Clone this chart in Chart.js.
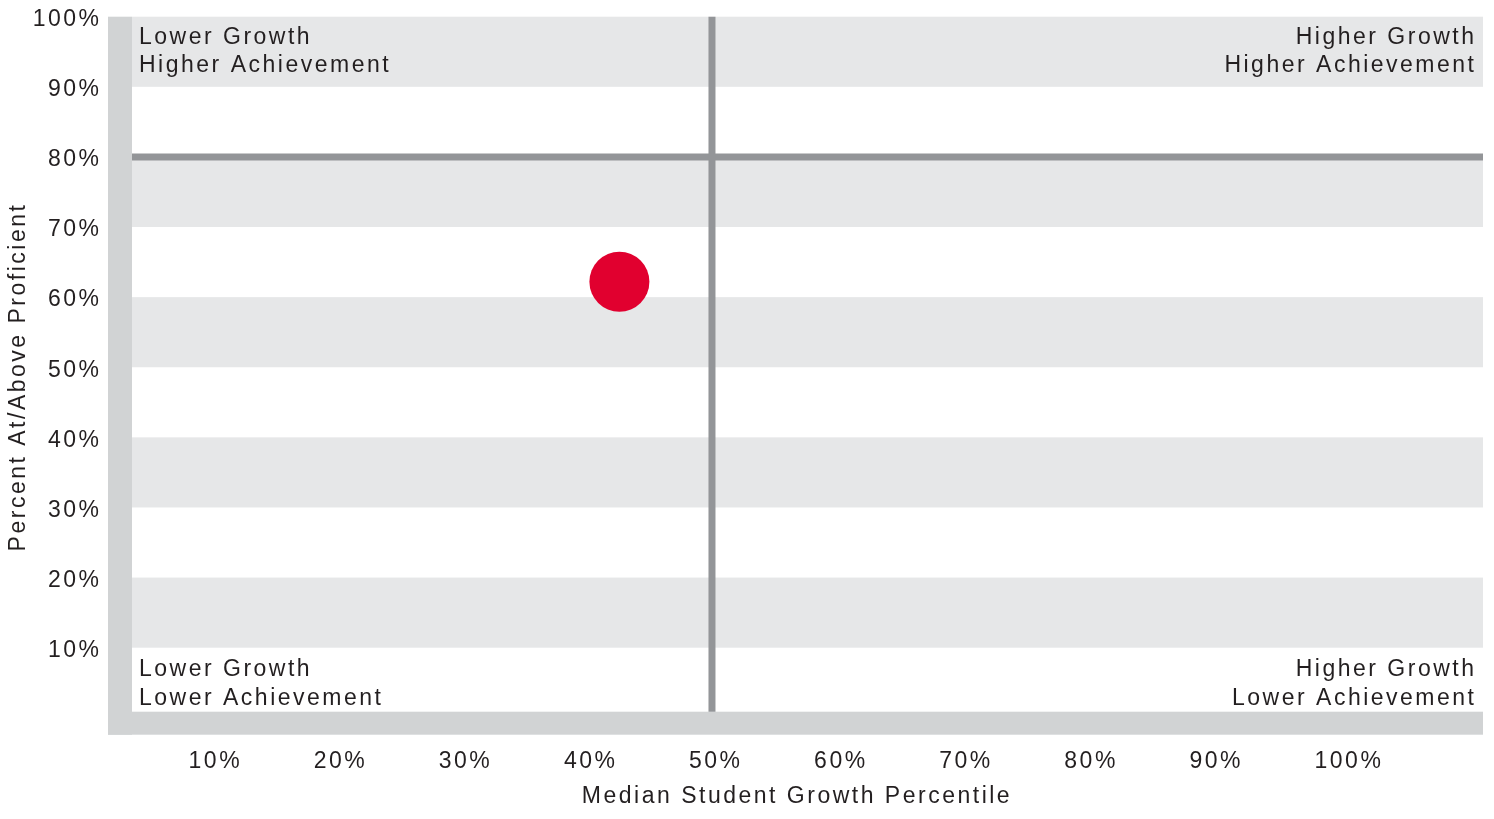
<!DOCTYPE html>
<html>
<head>
<meta charset="utf-8">
<script src="https://cdn.jsdelivr.net/npm/chart.js@4/dist/chart.umd.min.js"></script>
<style>
  html, body { margin: 0; padding: 0; background: #fff; }
  canvas { display: block; }
</style>
</head>
<body>
<canvas id="quadChart" width="1494" height="819"></canvas>
<script>
// values
const growth = [42.6];          // median student growth percentile
const proficient = [62.2];      // percent at/above proficient
const cutGrowth = 50;
const cutProficient = 80;
const xTicks = [10, 20, 30, 40, 50, 60, 70, 80, 90, 100];
const yTicks = [10, 20, 30, 40, 50, 60, 70, 80, 90, 100];
const bandStarts = [10, 30, 50, 70, 90];
const xRange = [3.64, 111.63];
const yRange = [0.87, 100];
const quadLabels = {
  topLeft: ["Lower Growth", "Higher Achievement"],
  topRight: ["Higher Growth", "Higher Achievement"],
  bottomLeft: ["Lower Growth", "Lower Achievement"],
  bottomRight: ["Higher Growth", "Lower Achievement"]
};
const xTitle = "Median Student Growth Percentile";
const yTitle = "Percent At/Above Proficient";

const FONT = '23px "Liberation Sans", Arial, Helvetica, sans-serif';
const TEXT = "#231f20";

const backdrop = {
  id: "backdrop",
  beforeDatasetsDraw(chart) {
    const { ctx, chartArea: a, scales: { y } } = chart;
    ctx.save();
    // L-shaped frame left and bottom
    ctx.fillStyle = "#d1d3d4";
    ctx.fillRect(a.left - 24, a.top, 24, a.bottom - a.top + 23);
    ctx.fillRect(a.left - 24, a.bottom, a.right - a.left + 24, 23);
    // alternating bands
    ctx.fillStyle = "#e6e7e8";
    bandStarts.forEach(v => {
      const y1 = y.getPixelForValue(v + 10);
      const y0 = y.getPixelForValue(v);
      ctx.fillRect(a.left, y1, a.right - a.left, y0 - y1);
    });
    ctx.restore();
  },
  afterDraw(chart) {
    const { ctx, chartArea: a, scales: { x, y } } = chart;
    ctx.save();
    ctx.font = FONT;
    ctx.fillStyle = TEXT;
    ctx.letterSpacing = "2.5px";

    // y tick labels
    ctx.textAlign = "right";
    ctx.textBaseline = "middle";
    yTicks.forEach(v => ctx.fillText(v + "%", 101.5, y.getPixelForValue(v) + 3));

    // x tick labels
    ctx.textAlign = "left";
    ctx.textBaseline = "alphabetic";
    xTicks.forEach(v => ctx.fillText(v + "%", x.getPixelForValue(v) - 23, 767.5));

    // axis titles
    ctx.textAlign = "center";
    ctx.fillText(xTitle, 797, 802.5);
    ctx.save();
    ctx.translate(24.5, 377);
    ctx.rotate(-Math.PI / 2);
    ctx.fillText(yTitle, 0, 0);
    ctx.restore();

    // quadrant labels
    ctx.textAlign = "left";
    ctx.fillText(quadLabels.topLeft[0], a.left + 7, 44);
    ctx.fillText(quadLabels.topLeft[1], a.left + 7, 72);
    ctx.fillText(quadLabels.bottomLeft[0], a.left + 7, 676);
    ctx.fillText(quadLabels.bottomLeft[1], a.left + 7, 705);
    ctx.textAlign = "right";
    ctx.fillText(quadLabels.topRight[0], a.right - 6.5, 44);
    ctx.fillText(quadLabels.topRight[1], a.right - 6.5, 72);
    ctx.fillText(quadLabels.bottomRight[0], a.right - 6.5, 676);
    ctx.fillText(quadLabels.bottomRight[1], a.right - 6.5, 705);
    ctx.restore();
  }
};

const ctx = document.getElementById("quadChart").getContext("2d");
new Chart(ctx, {
  type: "scatter",
  data: {
    datasets: [
      {
        label: "cut proficient",
        data: [{ x: xRange[0], y: cutProficient }, { x: xRange[1], y: cutProficient }],
        showLine: true,
        borderColor: "#939598",
        borderWidth: 7,
        pointRadius: 0,
        clip: false,
        order: 3
      },
      {
        label: "cut growth",
        data: [{ x: cutGrowth, y: yRange[0] }, { x: cutGrowth, y: yRange[1] }],
        showLine: true,
        borderColor: "#939598",
        borderWidth: 7,
        pointRadius: 0,
        clip: false,
        order: 2
      },
      {
        label: "school",
        data: growth.map((g, i) => ({ x: g, y: proficient[i] })),
        backgroundColor: "#e1002f",
        borderWidth: 0,
        pointRadius: 30,
        pointHoverRadius: 30,
        order: 1
      }
    ]
  },
  options: {
    responsive: false,
    animation: false,
    devicePixelRatio: 1,
    layout: {
      autoPadding: false,
      padding: { left: 132, right: 11, top: 16.7, bottom: 107.3 }
    },
    scales: {
      x: { type: "linear", min: xRange[0], max: xRange[1], display: false },
      y: { type: "linear", min: yRange[0], max: yRange[1], display: false }
    },
    plugins: {
      legend: { display: false },
      tooltip: { enabled: false }
    }
  },
  plugins: [backdrop]
});
</script>
</body>
</html>
